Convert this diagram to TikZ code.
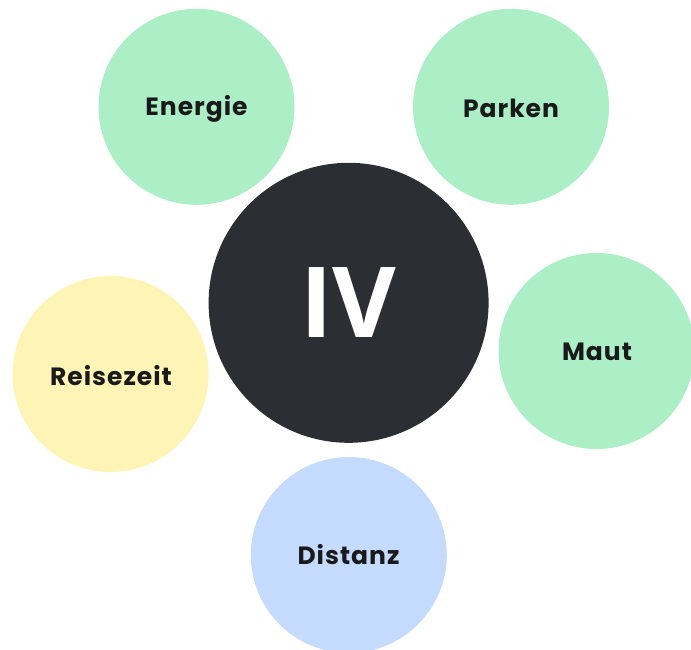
\documentclass[tikz,border=0pt]{standalone}
\usepackage{fontspec}
\setmainfont{Poppins}[LetterSpace=4]
\newfontfamily\ivfont{Open Sans}
\definecolor{mygreen}{RGB}{172,239,198}
\definecolor{myyellow}{RGB}{254,244,181}
\definecolor{myblue}{RGB}{197,219,253}
\definecolor{mydark}{RGB}{45,46,51}
\definecolor{mytext}{RGB}{26,26,28}
\begin{document}
\begin{tikzpicture}[x=1pt,y=-1pt,
  bubble/.style={circle,inner sep=0pt,minimum size=196pt,fill=#1},
  label text/.style={text=mytext,font=\fontsize{25}{28}\selectfont\bfseries,inner sep=0pt},
  core/.style={circle,inner sep=0pt,minimum size=280pt,fill=mydark,text=white,font=\ivfont\fontsize{98}{100}\selectfont\bfseries}]
\useasboundingbox (0,0) rectangle (691,649);
\begin{scope}
\clip (0,0) rectangle (691,649);
\node[bubble=mygreen] (energie) at (196.5,106.8) {};
\node[label text] (energieT) at (196.5,108.5) {Energie};
\node[bubble=mygreen] (parken) at (511,106.8) {};
\node[label text] (parkenT) at (511,108) {Parken};
\node[bubble=mygreen] (maut) at (596.5,351) {};
\node[label text] (mautT) at (597,352) {Maut};
\node[bubble=myyellow] (reise) at (110.6,374) {};
\node[label text] (reiseT) at (111,376) {Reisezeit};
\node[bubble=myblue] (distanz) at (348.8,555) {};
\node[label text] (distanzT) at (348.5,555) {Distanz};
\node[core] (iv) at (348.6,302.8) {IV};
\end{scope}
\end{tikzpicture}
\end{document}
